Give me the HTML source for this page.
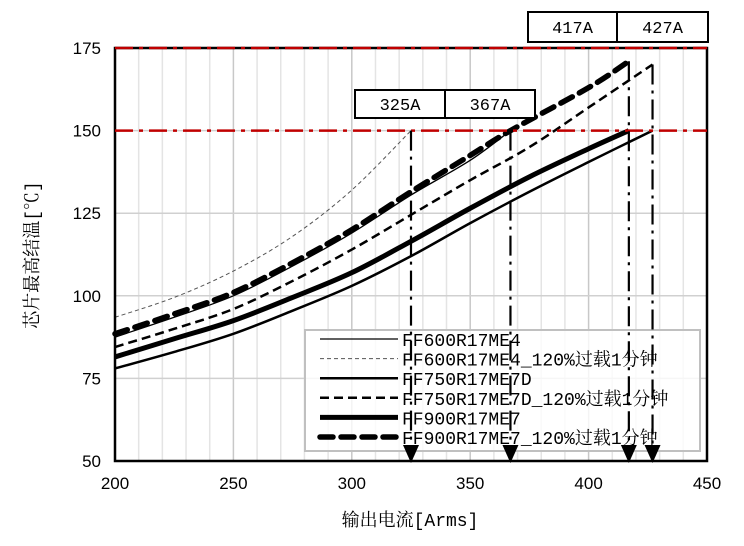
<!DOCTYPE html>
<html><head><meta charset="utf-8"><style>
body{margin:0;background:#fff;width:744px;height:541px;overflow:hidden}
svg text{font-family:"Liberation Mono","Noto Serif CJK SC","Noto Sans CJK SC",monospace}
svg text.tk{font-family:"Liberation Sans","Noto Sans CJK SC",sans-serif}
</style></head><body>
<svg id="c" width="744" height="541" xmlns="http://www.w3.org/2000/svg"></svg>
<script>
const xTicks=[200,250,300,350,400,450];
const yTicks=[50,75,100,125,150,175];
const seriesNames=["FF600R17ME4","FF600R17ME4_120%过载1分钟","FF750R17ME7D","FF750R17ME7D_120%过载1分钟","FF900R17ME7","FF900R17ME7_120%过载1分钟"];
const s600x=[200,225,250,275,300,325,350,367];
const s600y=[87.5,93.5,100,109,119,130.5,141,150];
const s600ox=[200,225,250,275,300,325];
const s600oy=[93.5,99.5,107.5,118,132,150];
const s750x=[200,225,250,275,300,325,350,375,400,427];
const s750y=[78,83,88.5,95.5,103,112,122,131.5,140.5,150];
const s750ox=[200,225,250,275,300,325,350,375,400,427];
const s750oy=[84.5,90,96,104.5,114,124.5,135,145,157,170];
const s900x=[200,225,250,275,300,325,350,375,400,417];
const s900y=[81.5,87,92.5,99.5,107,116.5,126.5,136,144.5,150];
const s900ox=[200,225,250,275,300,325,350,367,400,417];
const s900oy=[88.5,94.5,101,110,120,131.5,142.5,150,163,171];
const markX=[325,367,417,427];
const markTop=[150,150,171,170];
const markLabels=["325A","367A","417A","427A"];
const styles=[{w:1.3,d:""},{w:1,d:"4 3"},{w:2.5,d:""},{w:2.5,d:"9 5"},{w:5,d:""},{w:5.5,d:"13 8"}];
const X0=115,X1=707,Y0=461,Y1=48;
const sx=v=>X0+(v-200)/250*(X1-X0);
const sy=v=>Y0-(v-50)/125*(Y0-Y1);
const svg=document.getElementById('c');
const NS="http://www.w3.org/2000/svg";
function mk(t,a,p){const e=document.createElementNS(NS,t);for(const k in a)e.setAttribute(k,a[k]);(p||svg).appendChild(e);return e;}
function smooth(P){let d=`M${P[0][0]},${P[0][1]}`;for(let i=0;i<P.length-1;i++){const p0=P[i-1]||P[i],p1=P[i],p2=P[i+1],p3=P[i+2]||p2;
const c1=[p1[0]+(p2[0]-p0[0])/6,p1[1]+(p2[1]-p0[1])/6],c2=[p2[0]-(p3[0]-p1[0])/6,p2[1]-(p3[1]-p1[1])/6];
d+=` C${c1[0]},${c1[1]} ${c2[0]},${c2[1]} ${p2[0]},${p2[1]}`;}return d;}
// grid
for(let v=210;v<450;v+=10){
const g=mk('line',{x1:sx(v),x2:sx(v),y1:Y1,y2:Y0,stroke:v%50==0?'#c8c8c8':'#e4e4e4','stroke-width':1.5});


}
yTicks.forEach(v=>{if(v>50&&v<175){const g=mk('line',{x1:X0,x2:X1,y1:sy(v),y2:sy(v),stroke:'#d0d0d0','stroke-width':1.5});

}});
// series
const data=[[s600x,s600y],[s600ox,s600oy],[s750x,s750y],[s750ox,s750oy],[s900x,s900y],[s900ox,s900oy]];
data.forEach((d,i)=>{
const P=d[0].map((x,j)=>[sx(x),sy(d[1][j])]);
const p=mk('path',{d:smooth(P),fill:'none',stroke:i==1?'#555':'#000','stroke-width':styles[i].w,'stroke-dasharray':styles[i].d,'stroke-linejoin':'round','stroke-linecap':i==5?'round':'butt'});


});
// legend
const lg=mk('g',{});


mk('rect',{x:305,y:330,width:395,height:121,fill:'rgba(255,255,255,0.8)',stroke:'#c0c0c0','stroke-width':2},lg);
seriesNames.forEach((n,i)=>{
const y=339+i*19.6;
const e=mk('g',{},lg);


mk('line',{x1:320,x2:398,y1:y,y2:y,stroke:i==1?'#555':'#000','stroke-width':styles[i].w,'stroke-dasharray':styles[i].d,'stroke-linecap':i==5?'round':'butt'},e);
const t=mk('text',{x:402,y:y+7,'font-size':18},e);
t.textContent=n;
});
// plot frame
const fr=mk('rect',{x:X0,y:Y1,width:X1-X0,height:Y0-Y1,fill:'none',stroke:'#000','stroke-width':2.5});


// red limit lines
[150,175].forEach(v=>{const l=mk('line',{x1:X0,x2:X1,y1:sy(v),y2:sy(v),stroke:'#c00000','stroke-width':2.5,'stroke-dasharray':'18 6 4 6'});

});
// marker verticals + arrows
markX.forEach((m,i)=>{
const l=mk('line',{x1:sx(m),x2:sx(m),y1:sy(markTop[i]),y2:Y0-14,stroke:'#000','stroke-width':2.2,'stroke-dasharray':'20 6 3 6'});


const a=mk('polygon',{points:`${sx(m)-8},${Y0-16} ${sx(m)+8},${Y0-16} ${sx(m)},${Y0+2}`,fill:'#000'});


});
// label boxes
const boxes=[[355,90,90,28],[445,90,90,28],[528,12,89,30],[617,12,91,30]];
boxes.forEach((b,i)=>{
const r=mk('rect',{x:b[0],y:b[1],width:b[2],height:b[3],fill:'#fff',stroke:'#000','stroke-width':2});


const t=mk('text',{x:b[0]+b[2]/2,y:b[1]+b[3]/2+6,'text-anchor':'middle','font-size':17});
t.textContent=markLabels[i];


});
// axes ticks
xTicks.forEach(v=>{const t=mk('text',{x:sx(v),y:489,'text-anchor':'middle','font-size':17,class:'tk'});t.textContent=v;

});
yTicks.forEach(v=>{const t=mk('text',{x:101,y:sy(v)+6,'text-anchor':'end','font-size':17,class:'tk'});t.textContent=v;

});
const xt=mk('text',{x:410,y:526,'text-anchor':'middle','font-size':18});xt.textContent='输出电流[Arms]';


const yt=mk('text',{x:0,y:0,'text-anchor':'middle','font-size':18,transform:'translate(38,255) rotate(-90)'});yt.textContent='芯片最高结温[℃]';


</script>
</body></html>
